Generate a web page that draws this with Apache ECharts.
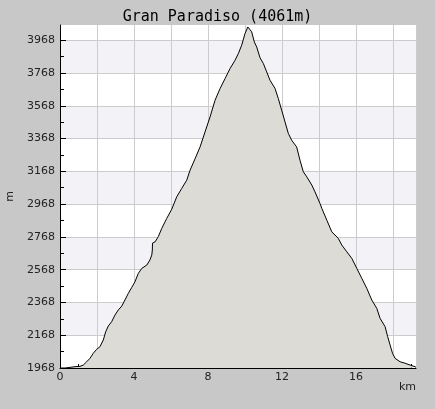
<!DOCTYPE html>
<html>
<head>
<meta charset="utf-8">
<script src="https://cdn.jsdelivr.net/npm/echarts@6/dist/echarts.min.js"></script>
<style>html,body{margin:0;padding:0;background:#c8c8c8;}#c{width:435px;height:409px;}</style>
</head>
<body>
<div id="c"></div>
<script>
var titleText = 'Gran Paradiso (4061m)';
var distanceKm = [0, 0.27, 0.54, 0.81, 1.08, 1.26, 1.44, 1.62, 1.80, 1.98, 2.16, 2.34, 2.47, 2.61, 2.79, 2.97, 3.15, 3.34, 3.51, 3.69, 3.88, 4.05, 4.23, 4.42, 4.69, 4.86, 4.96, 4.99, 5.00, 5.14, 5.31, 5.50, 5.77, 6.04, 6.31, 6.58, 6.85, 7.03, 7.30, 7.57, 7.84, 8.11, 8.38, 8.65, 8.92, 9.19, 9.46, 9.64, 9.82, 10.00, 10.15, 10.25, 10.36, 10.50, 10.63, 10.81, 10.99, 11.17, 11.35, 11.62, 11.80, 11.98, 12.16, 12.34, 12.52, 12.79, 12.97, 13.15, 13.34, 13.61, 13.78, 14.05, 14.15, 14.42, 14.69, 15.04, 15.23, 15.50, 15.77, 16.04, 16.31, 16.58, 16.85, 17.12, 17.30, 17.57, 17.71, 17.84, 17.97, 18.11, 18.38, 18.65, 18.92, 19.19, 19.24];
var elevationM = [1968, 1968, 1972, 1976, 1978, 1986, 2006, 2027, 2058, 2082, 2098, 2139, 2189, 2224, 2250, 2291, 2322, 2346, 2383, 2423, 2460, 2494, 2545, 2576, 2596, 2627, 2657, 2688, 2730, 2738, 2769, 2820, 2881, 2937, 3013, 3064, 3114, 3175, 3245, 3317, 3409, 3500, 3602, 3673, 3734, 3795, 3846, 3887, 3938, 4009, 4049, 4061, 4019, 3958, 3927, 3861, 3826, 3775, 3724, 3674, 3612, 3541, 3470, 3399, 3358, 3317, 3236, 3165, 3134, 3084, 3043, 2972, 2942, 2870, 2799, 2759, 2718, 2677, 2637, 2576, 2515, 2454, 2383, 2332, 2271, 2220, 2159, 2108, 2058, 2027, 2006, 1997, 1986, 1976, 1972];
var xTickValues = [0,1,2,3,4,5,6,7,8,9,10,11,12,13,14,15,16,17,18,19];
var xLabelValues = [0, 4, 8, 12, 16];
var yMajorValues = [1968, 2168, 2368, 2568, 2768, 2968, 3168, 3368, 3568, 3768, 3968];
var yMinorValues = [2068, 2268, 2468, 2668, 2868, 3068, 3268, 3468, 3668, 3868];

var data = distanceKm.map(function (d, i) { return [d, elevationM[i]]; });

var chart = echarts.init(document.getElementById('c'), null, {renderer: 'canvas'});
var gridColor = '#cccccc';
var labelFont = {fontFamily: 'DejaVu Sans', fontSize: 11, color: '#222'};
function plain(v) { return String(v); }
chart.setOption({
  animation: false,
  backgroundColor: '#c8c8c8',
  title: {
    text: titleText,
    left: 'center',
    top: 5,
    textStyle: {fontFamily: 'DejaVu Sans Mono', fontSize: 15, fontWeight: 'normal', color: '#000'}
  },
  grid: {left: 60, right: 19, top: 25, bottom: 41, containLabel: false, outerBoundsMode: 'none', show: true, backgroundColor: '#ffffff', borderWidth: 0},
  xAxis: [{
    type: 'value',
    min: 0,
    max: 19.24,
    interval: 2,
    position: 'bottom',
    name: 'km',
    nameLocation: 'end',
    nameGap: 0,
    nameTextStyle: {fontFamily: 'DejaVu Sans', fontSize: 11, color: '#222', align: 'right', verticalAlign: 'top', padding: [14, 0, 0, 0]},
    axisLine: {show: true, onZero: false, lineStyle: {color: '#000', width: 1}},
    axisTick: {show: false},
    axisLabel: Object.assign({customValues: xLabelValues, margin: 4, formatter: plain}, labelFont),
    splitLine: {show: true, lineStyle: {color: gridColor, width: 1}}
  }, {
    type: 'value',
    min: 0,
    max: 19.24,
    interval: 1,
    position: 'bottom',
    axisLine: {show: false, onZero: false},
    axisTick: {show: true, inside: true, length: 4, customValues: xTickValues, lineStyle: {color: '#000'}},
    axisLabel: {show: false},
    splitLine: {show: false}
  }],
  yAxis: [{
    type: 'value',
    min: 1968,
    max: 4061,
    interval: 200,
    position: 'left',
    name: 'm',
    nameLocation: 'middle',
    nameGap: 44,
    nameTextStyle: {fontFamily: 'DejaVu Sans', fontSize: 11, color: '#222'},
    axisLine: {show: true, onZero: false, lineStyle: {color: '#000', width: 1}},
    axisTick: {show: true, inside: true, length: 6, customValues: yMajorValues, lineStyle: {color: '#000'}},
    axisLabel: Object.assign({customValues: yMajorValues, margin: 5, formatter: plain}, labelFont),
    splitLine: {show: true, lineStyle: {color: gridColor, width: 1}},
    splitArea: {show: true, areaStyle: {color: ['#ffffff', '#f3f2f6']}}
  }, {
    type: 'value',
    min: 1968,
    max: 4061,
    interval: 200,
    position: 'left',
    axisLine: {show: false, onZero: false},
    axisTick: {show: true, inside: true, length: 4, customValues: yMinorValues, lineStyle: {color: '#000'}},
    axisLabel: {show: false},
    splitLine: {show: false},
    splitArea: {show: false}
  }],
  series: [{
    type: 'line',
    data: data,
    xAxisIndex: 0,
    yAxisIndex: 0,
    showSymbol: false,
    symbol: 'none',
    smooth: false,
    lineStyle: {color: '#000', width: 1},
    areaStyle: {color: '#dcdbd6', opacity: 1, origin: 'start'},
    z: 3
  }]
});
</script>
</body>
</html>
